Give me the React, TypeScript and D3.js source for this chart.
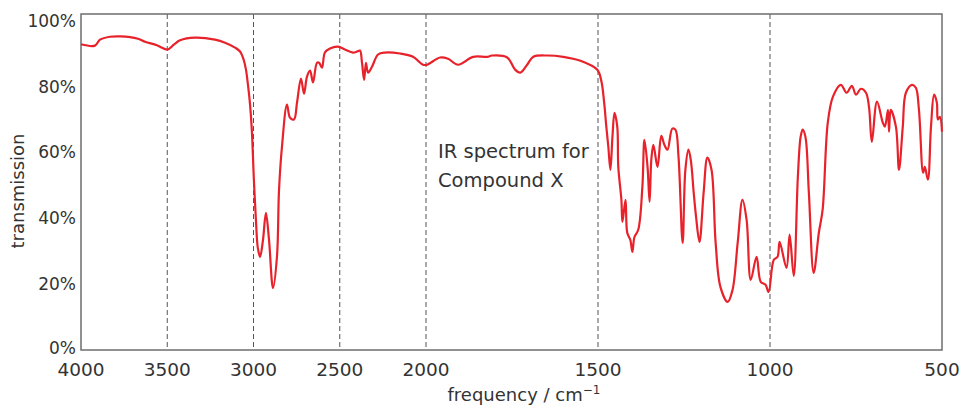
import React from "react";
import * as d3 from "d3";

// wavenumber (cm-1), high to low
const wavenumbers = [
  4000, 3919, 3890, 3832, 3770, 3716, 3670, 3629, 3560, 3500, 3460, 3426, 3339, 3223, 3165, 3107,
  3078, 3060, 3045, 3032, 3020, 3009, 2998, 2985, 2975, 2962, 2945, 2928, 2910, 2887, 2864, 2852,
  2835, 2806, 2788, 2765, 2748, 2725, 2707, 2690, 2672, 2655, 2632, 2620, 2603, 2586, 2557, 2510,
  2470, 2423, 2400, 2383, 2371, 2359, 2348, 2336, 2313, 2278, 2238, 2151, 2075, 2017, 1997, 1959,
  1936, 1907, 1863, 1822, 1808, 1764, 1741, 1726, 1706, 1688, 1648, 1601, 1551, 1502, 1490, 1482,
  1476, 1470, 1464, 1458, 1452, 1444, 1441, 1432, 1429, 1420, 1415, 1406, 1400, 1394, 1383, 1371,
  1365, 1356, 1350, 1345, 1339, 1327, 1316, 1307, 1298, 1284, 1275, 1266, 1254, 1246, 1237, 1230,
  1222, 1215, 1205, 1193, 1182, 1170, 1158, 1144, 1123, 1109, 1094, 1080, 1068, 1056, 1039, 1027,
  1013, 1004, 989, 978, 972, 952, 943, 931, 919, 911, 905, 897, 887, 873, 858, 847,
  832, 817, 794, 777, 762, 750, 736, 721, 712, 704, 689, 672, 666, 657, 654, 649,
  634, 625, 614, 605, 587, 576, 567, 555, 550, 541, 532, 523, 515, 512, 506, 500,
];

// transmission (%) at each wavenumber
const transmission = [
  92.8, 92.4, 94.2, 95.1, 95.2, 95.0, 94.5, 93.6, 92.5, 91.2, 92.8, 94.0, 94.8, 94.2, 93.3, 91.8,
  90.6, 88.6, 85.5, 80.5, 74.5, 66.0, 52.0, 38.5, 31.0, 28.3, 33.4, 41.6, 33.4, 18.8, 28.3, 48.6,
  61.7, 74.5, 70.5, 70.0, 75.0, 82.4, 77.8, 83.0, 84.8, 81.2, 87.2, 87.2, 85.7, 90.3, 91.5, 92.1,
  91.2, 90.3, 90.6, 90.9, 87.2, 82.0, 87.2, 84.2, 86.0, 89.7, 90.3, 90.0, 89.0, 86.6, 86.6, 88.8,
  88.4, 86.6, 89.0, 89.0, 89.4, 88.8, 85.1, 84.2, 86.6, 89.0, 89.4, 89.0, 87.8, 85.1, 81.5, 75.0,
  68.0, 61.7, 54.7, 64.7, 72.0, 67.8, 55.6, 45.6, 38.9, 45.6, 35.6, 33.4, 29.8, 34.3, 36.5, 49.5,
  63.8, 55.6, 45.0, 57.8, 62.3, 55.6, 65.0, 62.3, 60.8, 67.2, 66.9, 58.7, 32.5, 54.7, 60.8, 57.5,
  48.0, 40.5, 32.8, 47.7, 58.4, 54.7, 32.5, 19.1, 14.6, 18.2, 32.5, 45.6, 39.5, 21.3, 28.3, 20.7,
  19.8, 17.6, 27.4, 28.3, 32.8, 24.9, 35.0, 22.5, 52.6, 64.7, 66.9, 64.7, 47.7, 23.4, 35.6, 42.6,
  69.0, 76.9, 80.5, 78.1, 80.2, 77.5, 79.3, 78.1, 73.6, 63.2, 75.4, 69.0, 67.8, 72.9, 66.3, 72.9,
  67.8, 54.7, 67.8, 78.1, 80.5, 79.6, 72.9, 53.8, 55.6, 51.7, 67.8, 77.5, 75.1, 70.0, 70.8, 66.3,
];

const xTicks = [4000, 3500, 3000, 2500, 2000, 1500, 1000, 500];
const gridLines = [3500, 3000, 2500, 2000, 1500, 1000];
const yTicks = [0, 20, 40, 60, 80, 100];

const W = 960;
const H = 405;
const left = 81;
const right = 942;
const top = 14;
const bottom = 350;
const FONT = "'DejaVu Sans', sans-serif";
const TEXT = "#333";
const FRAME = "#6e6e6e";

export default function App() {
  // scale changes at 2000 cm-1, as on the instrument chart
  const x = d3.scaleLinear().domain([4000, 2000, 500]).range([left, 426, right]);
  const y = d3.scaleLinear().domain([0, 102]).range([bottom, top]);

  const points = wavenumbers.map((w, i) => ({ w, t: transmission[i] }));
  const line = d3
    .line<{ w: number; t: number }>()
    .x((d) => x(d.w))
    .y((d) => y(d.t))
    .curve(d3.curveCatmullRom.alpha(0.5));

  return (
    <svg
      width={W}
      height={H}
      style={{ position: "absolute", left: 0, top: 0, background: "#fff" }}
      fontFamily={FONT}
    >
      {gridLines.map((g) => (
        <line
          key={g}
          x1={x(g)}
          x2={x(g)}
          y1={top}
          y2={bottom}
          stroke="#555"
          strokeWidth={1}
          strokeDasharray="5,3"
        />
      ))}

      <rect
        x={left}
        y={top}
        width={right - left}
        height={bottom - top}
        fill="none"
        stroke={FRAME}
        strokeWidth={1.5}
      />

      <path d={line(points) ?? ""} fill="none" stroke="#e8222b" strokeWidth={2.2} strokeLinejoin="round" />

      {yTicks.map((t) => (
        <text
          key={t}
          x={left - 5}
          y={y(t) - (t === 0 ? 2 : 0)}
          dy="0.36em"
          textAnchor="end"
          fontSize={17}
          fill={TEXT}
        >
          {t}%
        </text>
      ))}

      {xTicks.map((t) => (
        <text key={t} x={x(t)} y={376} textAnchor="middle" fontSize={18.5} fill={TEXT}>
          {t}
        </text>
      ))}

      <text x={524} y={401} textAnchor="middle" fontSize={18} fill={TEXT}>
        frequency / cm
        <tspan fontSize={12} dy={-7}>
          −1
        </tspan>
      </text>

      <text
        transform={`translate(24, 191) rotate(-90)`}
        textAnchor="middle"
        fontSize={18}
        fill={TEXT}
      >
        transmission
      </text>

      <text x={438} y={158} fontSize={19.5} fill={TEXT}>
        IR spectrum for
      </text>
      <text x={438} y={187} fontSize={19.5} fill={TEXT}>
        Compound X
      </text>
    </svg>
  );
}
